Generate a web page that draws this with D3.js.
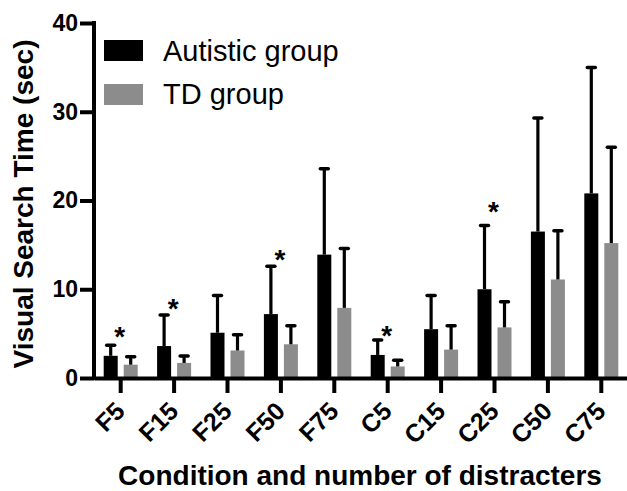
<!DOCTYPE html>
<html>
<head>
<meta charset="utf-8">
<script src="https://cdn.jsdelivr.net/npm/d3@7"></script>
<style>
  html, body { margin: 0; padding: 0; background: #fff; }
  svg { display: block; font-family: "Liberation Sans", Arial, Helvetica, sans-serif; }
</style>
</head>
<body>
<svg id="chart" width="627" height="491"></svg>
<script>
// ---- data ----
const categories = ["F5", "F15", "F25", "F50", "F75", "C5", "C15", "C25", "C50", "C75"];
const groups = ["Autistic group", "TD group"];
const autisticMean = [2.5, 3.6, 5.1, 7.2, 13.9, 2.6, 5.5, 10.0, 16.5, 20.8];
const autisticSD   = [1.3, 3.6, 4.3, 5.5, 9.8, 1.8, 3.9, 7.3, 12.9, 14.3];
const tdMean       = [1.5, 1.7, 3.1, 3.8, 7.9, 1.3, 3.2, 5.7, 11.1, 15.2];
const tdSD         = [1.0, 0.9, 1.9, 2.2, 6.8, 0.8, 2.8, 3.0, 5.6, 10.9];
const yTicks       = [0, 10, 20, 30, 40];
// significance markers: category and height (sec) of the asterisk
const sigCategories = ["F5", "F15", "F50", "C5", "C25"];
const sigHeights    = [5.4, 8.6, 14.1, 5.5, 19.5];

const colors = { "Autistic group": "#000000", "TD group": "#8c8c8c" };

// ---- scales ----
const svg = d3.select("#chart");
const x = d3.scaleBand().domain(categories).range([94, 628]).padding(0);
const xInner = d3.scaleBand().domain(groups).range([-17, 17]).paddingInner(0.3);
const y = d3.scaleLinear().domain([0, 40]).range([378, 23]);

const rows = [];
categories.forEach((c, i) => {
  rows.push({ cat: c, group: groups[0], mean: autisticMean[i], sd: autisticSD[i] });
  rows.push({ cat: c, group: groups[1], mean: tdMean[i], sd: tdSD[i] });
});
const cx = d => x(d.cat) + x.bandwidth() / 2;

// ---- bars ----
svg.append("g").selectAll("rect").data(rows).join("rect")
  .attr("x", d => cx(d) + xInner(d.group))
  .attr("width", xInner.bandwidth())
  .attr("y", d => y(d.mean))
  .attr("height", d => y(0) - y(d.mean))
  .attr("fill", d => colors[d.group]);

// ---- error bars ----
const eb = svg.append("g").attr("stroke", "#000");
eb.selectAll("line.stem").data(rows).join("line").attr("class", "stem")
  .attr("x1", d => cx(d) + xInner(d.group) + xInner.bandwidth() / 2)
  .attr("x2", d => cx(d) + xInner(d.group) + xInner.bandwidth() / 2)
  .attr("y1", d => y(d.mean))
  .attr("y2", d => y(d.mean + d.sd))
  .attr("stroke-width", 3.2);
eb.selectAll("line.cap").data(rows).join("line").attr("class", "cap")
  .attr("x1", d => cx(d) + xInner(d.group) + xInner.bandwidth() / 2 - 4)
  .attr("x2", d => cx(d) + xInner(d.group) + xInner.bandwidth() / 2 + 4)
  .attr("y1", d => y(d.mean + d.sd) + 1)
  .attr("y2", d => y(d.mean + d.sd) + 1)
  .attr("stroke-width", 3.5)
  .attr("stroke-linecap", "round");

// ---- axes ----
const yAxis = svg.append("g").attr("transform", "translate(94,0)")
  .call(d3.axisLeft(y).tickValues(yTicks).tickSize(14).tickSizeOuter(0).tickPadding(2));
yAxis.select(".domain").attr("stroke-width", 4).attr("d", `M0,${y(40) - 2}V${y(0) + 2}`);
yAxis.selectAll(".tick line").attr("stroke-width", 4);
yAxis.selectAll(".tick text").attr("font-size", 23).attr("font-weight", "bold")
  .attr("font-family", "Liberation Sans, Arial, sans-serif").attr("fill", "#000");

const xAxis = svg.append("g").attr("transform", `translate(0,${y(0)})`)
  .call(d3.axisBottom(x).tickSize(15).tickSizeOuter(0));
xAxis.select(".domain").attr("stroke-width", 4);
xAxis.selectAll(".tick line").attr("stroke-width", 4);
xAxis.selectAll(".tick text")
  .attr("font-size", 25).attr("font-weight", "bold")
  .attr("font-family", "Liberation Sans, Arial, sans-serif").attr("fill", "#000")
  .attr("text-anchor", "end")
  .attr("transform", "translate(-7,22) rotate(-45)")
  .attr("x", 0).attr("y", 0).attr("dy", "0.72em");

// ---- significance asterisks ----
svg.append("g").selectAll("text").data(sigCategories).join("text")
  .attr("x", c => x(c) + x.bandwidth() / 2 - 1)
  .attr("y", (c, i) => y(sigHeights[i]) + 16)
  .attr("text-anchor", "middle")
  .attr("font-size", 28)
  .attr("font-weight", "bold")
  .text("*");

// ---- legend ----
const legend = svg.append("g");
groups.forEach((g, i) => {
  legend.append("rect").attr("x", 104).attr("y", 40 + i * 44).attr("width", 39).attr("height", 21)
    .attr("fill", colors[g]);
  legend.append("text").attr("x", 163).attr("y", 61 + i * 43)
    .attr("font-size", 29).attr("fill", "#000").text(g);
});

// ---- axis titles ----
svg.append("text")
  .attr("transform", "translate(33,204) rotate(-90)")
  .attr("text-anchor", "middle")
  .attr("font-size", 28).attr("font-weight", "bold")
  .text("Visual Search Time (sec)");
svg.append("text")
  .attr("x", 360).attr("y", 485)
  .attr("text-anchor", "middle")
  .attr("font-size", 28).attr("font-weight", "bold")
  .text("Condition and number of distracters");
</script>
</body>
</html>
